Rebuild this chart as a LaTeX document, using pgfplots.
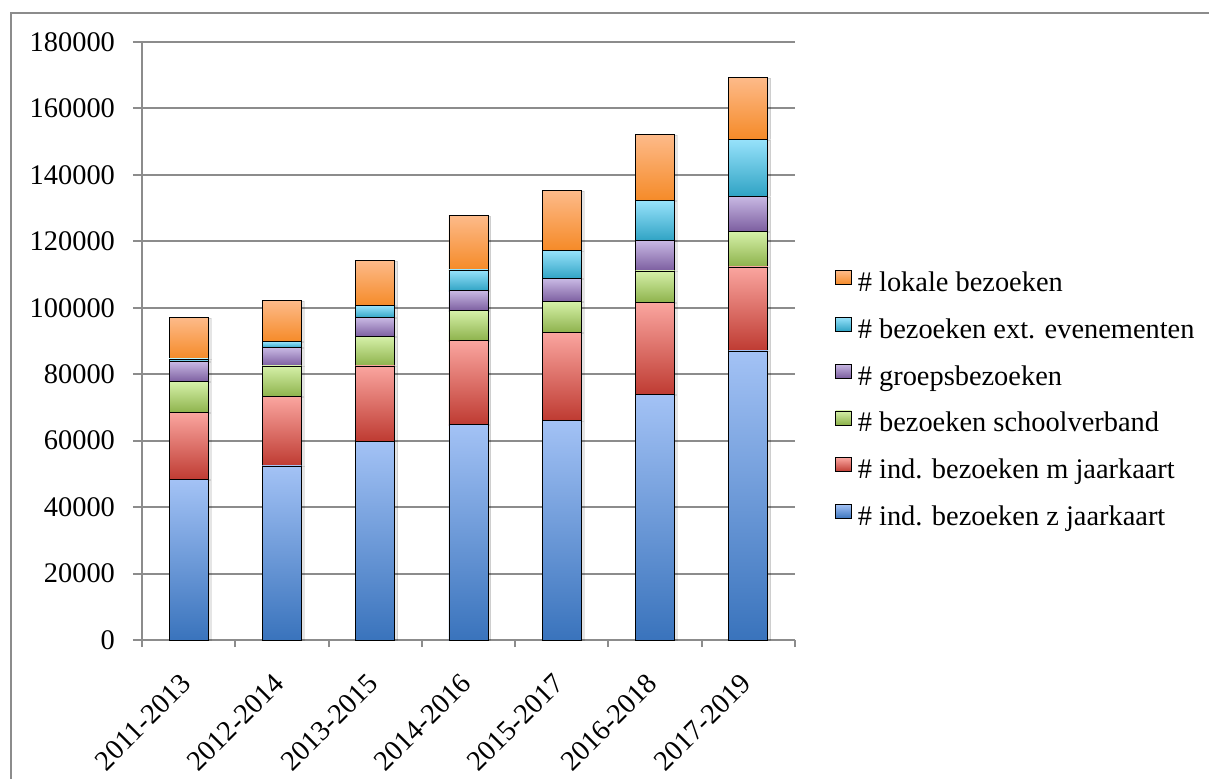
\documentclass[border=0pt]{standalone}
\usepackage{fontspec}
\setmainfont{Liberation Serif}
\usepackage{pgfplots}
\pgfplotsset{compat=1.18}

\definecolor{gridgray}{HTML}{8C8C8C}
\definecolor{blueT}{HTML}{A3C2F5}\definecolor{blueM}{HTML}{8DAEE9}\definecolor{blueB}{HTML}{3973BC}
\definecolor{redT}{HTML}{FAA59F}\definecolor{redM}{HTML}{EE928C}\definecolor{redB}{HTML}{BE3A31}
\definecolor{grnT}{HTML}{D5F0A8}\definecolor{grnM}{HTML}{C2DF92}\definecolor{grnB}{HTML}{8CB14A}
\definecolor{purT}{HTML}{C8B8E3}\definecolor{purM}{HTML}{B3A2D4}\definecolor{purB}{HTML}{7A5C9E}
\definecolor{cyaT}{HTML}{97E2FB}\definecolor{cyaM}{HTML}{76CDE8}\definecolor{cyaB}{HTML}{2EA2C3}
\definecolor{oraT}{HTML}{FDBA89}\definecolor{oraM}{HTML}{FBA86A}\definecolor{oraB}{HTML}{F58A27}

\newdimen\segdim
% each stacked value is drawn as its own shaded block, hanging down from the stacked top;
% point meta (0..180000 -> 0..1000) gives the block height (axis height 299pt)
\pgfplotsset{
  seg/.style n args={4}{only marks, scatter, mark=*, mark size=0pt,
    mark options={draw=none, fill=none},
    point meta=\thisrow{#4},
    scatter/@pre marker code/.code={%
      \segdim=\pgfplotspointmetatransformed pt
      \segdim=0.299\segdim
      \fill[black, opacity=0.10] (9.75pt,-0.3pt) rectangle (11.2pt,-\segdim);
      \fill[top color=#1, middle color=#2, bottom color=#3] (-9.75pt,0pt) rectangle (9.75pt,{-\segdim-0.25pt});},
    scatter/@post marker code/.code={},
    legend image code/.code={\fill[top color=#1, bottom color=#3] (0pt,0pt) rectangle (7.8pt,7pt);}},
}

% values per three-year period
\pgfplotstableread{
x   zjaar  mjaar  school groep  ext    lokaal
0   48200  20200  9300   6100   800    12400
1   52400  20800  9300   5500   1800   12300
2   59900  22600  8800   5700   3600   13600
3   64800  25300  9000   6000   6300   16300
4   66100  26400  9300   6900   8600   17900
5   73800  27700  9600   9100   12000  19900
6   87000  25300  10600  10600  17200  18600
}\visits

\begin{document}
\begin{tikzpicture}
\path[use as bounding box] (-71pt,-69pt) rectangle (533.5pt,320pt);
\begin{scope}
  \clip (-71pt,-69pt) rectangle (533.5pt,320pt);
  \draw[gridgray, line width=1pt] (-65.5pt,-80pt) -- (-65.5pt,313.5pt) -- (540pt,313.5pt);
\end{scope}
\begin{axis}[
  at={(0pt,0pt)}, anchor=south west,
  scale only axis, width=326.5pt, height=299pt,
  stack plots=y,
  point meta min=0, point meta max=180000,
  xmin=-0.5, xmax=6.5, ymin=0, ymax=180000,
  ytick distance=20000,
  xtick={0,...,6},
  xticklabels={2011-2013,2012-2014,2013-2015,2014-2016,2015-2017,2016-2018,2017-2019},
  minor xtick={-0.5,0.5,...,6.5},
  major x tick style={draw=none},
  tick align=outside,
  major tick length=4.5pt, minor tick length=3.5pt,
  tick style={gridgray, line width=1pt},
  axis x line*=bottom, axis y line*=left,
  axis line style={gridgray, line width=1pt, -},
  ymajorgrids, grid style={gridgray, line width=1pt},
  scaled y ticks=false,
  /pgf/number format/fixed,
  /pgf/number format/1000 sep={},
  /pgf/number format/assume math mode=true,
  every tick label/.append style={font=\fontsize{14.2}{17}\selectfont},
  yticklabel style={xshift=-5.5pt},
  xticklabel style={xshift=-4.7pt, yshift=-6.7pt, rotate=45, anchor=north east},
  reverse legend,
  legend cell align=left,
  legend style={at={(1.0613,0.6192)}, anchor=north west, draw=none, fill=none,
    inner sep=0pt, row sep=9.7pt, column sep=3pt, font=\fontsize{14.2}{17}\selectfont,
    nodes={inner sep=0pt, text height=10pt, text depth=3pt}},
]
\addplot[seg={blueT}{blueM}{blueB}{zjaar}] table[x=x,y=zjaar] {\visits};
\addlegendentry{\# ind. bezoeken z jaarkaart}
\addplot[seg={redT}{redM}{redB}{mjaar}] table[x=x,y=mjaar] {\visits};
\addlegendentry{\# ind. bezoeken m jaarkaart}
\addplot[seg={grnT}{grnM}{grnB}{school}] table[x=x,y=school] {\visits};
\addlegendentry{\# bezoeken schoolverband}
\addplot[seg={purT}{purM}{purB}{groep}] table[x=x,y=groep] {\visits};
\addlegendentry{\# groepsbezoeken}
\addplot[seg={cyaT}{cyaM}{cyaB}{ext}] table[x=x,y=ext] {\visits};
\addlegendentry{\# bezoeken ext. evenementen}
\addplot[seg={oraT}{oraM}{oraB}{lokaal}] table[x=x,y=lokaal] {\visits};
\addlegendentry{\# lokale bezoeken}
\end{axis}
\end{tikzpicture}
\end{document}
